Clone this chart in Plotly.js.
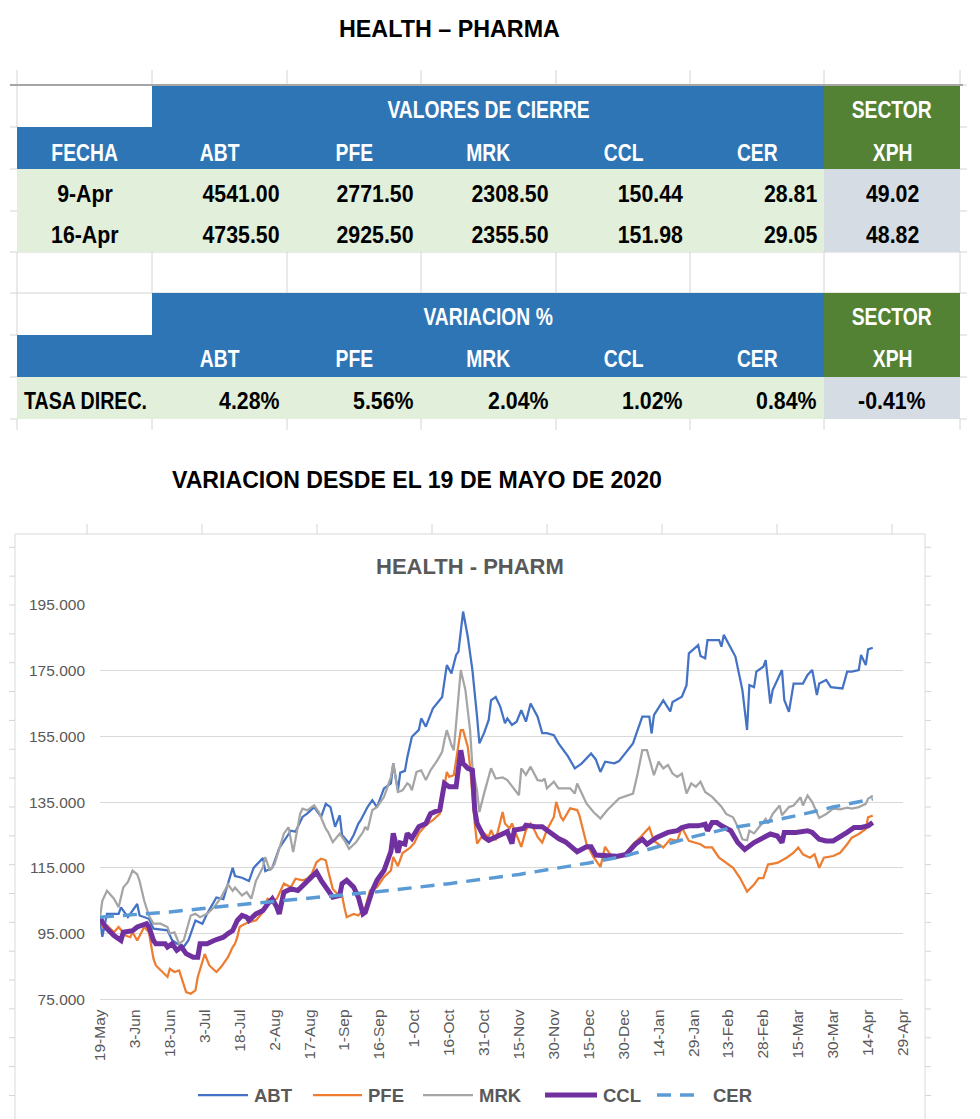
<!DOCTYPE html>
<html>
<head>
<meta charset="utf-8">
<script src="https://cdn.plot.ly/plotly-3.0.1.min.js"></script>
<style>html,body{margin:0;padding:0;background:#fff;}#chart{width:980px;height:1119px;}</style>
</head>
<body>
<div id="chart"></div>
<script>
// ---------------- DATA ----------------
const pageTitle = "HEALTH – PHARMA";
const subTitle = "VARIACION DESDE EL 19 DE MAYO DE 2020";
const chartTitle = "HEALTH - PHARM";

const tickers = ["ABT", "PFE", "MRK", "CCL", "CER"];
const sectorLabel = ["SECTOR", "XPH"];
const closeHeader = "VALORES DE CIERRE";
const varHeader = "VARIACION %";
const fechaHeader = "FECHA";
const fechas = ["9-Apr", "16-Apr"];
const close9Apr = [4541.00, 2771.50, 2308.50, 150.44, 28.81];
const close16Apr = [4735.50, 2925.50, 2355.50, 151.98, 29.05];
const xphClose = [49.02, 48.82];
const tasaLabel = "TASA DIREC.";
const variacion = [4.28, 5.56, 2.04, 1.02, 0.84];
const xphVariacion = -0.41;

const xTickDates = ["2020-05-19","2020-06-03","2020-06-18","2020-07-03","2020-07-18","2020-08-02","2020-08-17","2020-09-01","2020-09-16","2020-10-01","2020-10-16","2020-10-31","2020-11-15","2020-11-30","2020-12-15","2020-12-30","2021-01-14","2021-01-29","2021-02-13","2021-02-28","2021-03-15","2021-03-30","2021-04-14","2021-04-29"];
const xTickLabels = ["19-May","3-Jun","18-Jun","3-Jul","18-Jul","2-Aug","17-Aug","1-Sep","16-Sep","1-Oct","16-Oct","31-Oct","15-Nov","30-Nov","15-Dec","30-Dec","14-Jan","29-Jan","13-Feb","28-Feb","15-Mar","30-Mar","14-Apr","29-Apr"];
const yTickValues = [75, 95, 115, 135, 155, 175, 195];

const abtDates = ["2020-05-19","2020-05-20","2020-05-22","2020-05-27","2020-05-28","2020-05-31","2020-06-04","2020-06-05","2020-06-09","2020-06-11",
"2020-06-17","2020-06-19","2020-06-21","2020-06-24","2020-06-26","2020-06-29","2020-07-02","2020-07-04","2020-07-08","2020-07-11",
"2020-07-15","2020-07-16","2020-07-19","2020-07-22","2020-07-24","2020-07-28","2020-07-29","2020-08-01","2020-08-04","2020-08-07",
"2020-08-09","2020-08-11","2020-08-14","2020-08-16","2020-08-19","2020-08-22","2020-08-24","2020-08-26","2020-08-28","2020-08-30",
"2020-08-31","2020-09-03","2020-09-05","2020-09-07","2020-09-08","2020-09-11","2020-09-13","2020-09-15","2020-09-18","2020-09-21",
"2020-09-22","2020-09-24","2020-09-25","2020-09-27","2020-09-28","2020-09-30","2020-10-03","2020-10-04","2020-10-06","2020-10-09",
"2020-10-13","2020-10-15","2020-10-17","2020-10-19","2020-10-20","2020-10-22","2020-10-24","2020-10-26","2020-10-27","2020-10-28",
"2020-10-29","2020-10-31","2020-11-02","2020-11-03","2020-11-05","2020-11-07","2020-11-09","2020-11-10","2020-11-12","2020-11-14",
"2020-11-16","2020-11-18","2020-11-20","2020-11-23","2020-11-25","2020-11-27","2020-11-30","2020-12-02","2020-12-06","2020-12-09",
"2020-12-12","2020-12-16","2020-12-18","2020-12-20","2020-12-22","2020-12-26","2020-12-28","2021-01-03","2021-01-05","2021-01-07",
"2021-01-10","2021-01-11","2021-01-12","2021-01-16","2021-01-19","2021-01-20","2021-01-24","2021-01-26","2021-01-27","2021-01-31",
"2021-02-01","2021-02-03","2021-02-04","2021-02-09","2021-02-10","2021-02-11","2021-02-16","2021-02-19","2021-02-21","2021-02-22",
"2021-02-24","2021-02-25","2021-02-28","2021-03-01","2021-03-03","2021-03-04","2021-03-08","2021-03-09","2021-03-11","2021-03-13",
"2021-03-17","2021-03-19","2021-03-21","2021-03-23","2021-03-24","2021-03-27","2021-03-29","2021-04-03","2021-04-05","2021-04-07",
"2021-04-10","2021-04-11","2021-04-13","2021-04-14","2021-04-16"];
const abtValues = [100,94,101,101,103,100,104,100.5,99.5,96.5,
96,93,92,91,93,99,98,101,106,105.5,
115,112.5,112,111,115,118,114,115,121,124,
126.3,126,130.5,131.5,133.5,130.5,134.5,133.5,127.5,131,
125,122.5,125,128.5,129.5,133.6,135.6,133.5,139.2,140.7,
146.8,138.6,144,144.5,148.5,154.9,157,160.5,158,163.5,
167,176.7,174.2,179.8,180.8,193,185.4,175.2,169.1,161,
152.9,156,160,166,167,164,159,160.5,158.5,159.5,
163,159.5,165,161,156,156,155.4,152.9,149,145.3,
146.8,149.8,148,144.2,147.3,146.8,147.5,152.9,157,161,
161,155.9,161.5,166,162.6,165.5,167.1,170.6,180.3,182.8,
179.5,178.8,184.3,184.3,182.3,185.9,179.3,169.1,157,170.6,
170,174.7,176.2,178.2,165,169.1,175.2,166.1,162.5,171.1,
171.1,173.7,175.2,167.6,171.1,172.2,170,169.6,174.7,174.7,
175.2,179.8,176.7,181.5,182];

const pfeDates = ["2020-05-19","2020-05-20","2020-05-22","2020-05-25","2020-05-27","2020-05-30","2020-06-01","2020-06-02","2020-06-04","2020-06-06",
"2020-06-07","2020-06-09","2020-06-10","2020-06-11","2020-06-12","2020-06-15","2020-06-17","2020-06-18","2020-06-20","2020-06-22",
"2020-06-24","2020-06-25","2020-06-27","2020-06-29","2020-06-30","2020-07-02","2020-07-03","2020-07-05","2020-07-08","2020-07-10",
"2020-07-13","2020-07-15","2020-07-16","2020-07-17","2020-07-18","2020-07-19","2020-07-22","2020-07-25","2020-07-28","2020-07-30",
"2020-08-01","2020-08-03","2020-08-06","2020-08-09","2020-08-11","2020-08-14","2020-08-16","2020-08-18","2020-08-20","2020-08-22",
"2020-08-24","2020-08-25","2020-08-27","2020-08-29","2020-08-31","2020-09-01","2020-09-02","2020-09-05","2020-09-07","2020-09-10",
"2020-09-12","2020-09-15","2020-09-17","2020-09-18","2020-09-21","2020-09-22","2020-09-24","2020-09-26","2020-09-29","2020-10-01",
"2020-10-03","2020-10-06","2020-10-09","2020-10-12","2020-10-15","2020-10-16","2020-10-18","2020-10-21","2020-10-22","2020-10-24",
"2020-10-25","2020-10-26","2020-10-27","2020-10-28","2020-10-31","2020-11-02","2020-11-03","2020-11-05","2020-11-08","2020-11-09",
"2020-11-11","2020-11-12","2020-11-14","2020-11-16","2020-11-18","2020-11-20","2020-11-22","2020-11-23","2020-11-25","2020-11-27",
"2020-11-30","2020-12-01","2020-12-03","2020-12-04","2020-12-07","2020-12-10","2020-12-11","2020-12-14","2020-12-17","2020-12-20",
"2020-12-22","2020-12-25","2020-12-30","2021-01-03","2021-01-06","2021-01-10","2021-01-12","2021-01-16","2021-01-19","2021-01-22",
"2021-01-24","2021-01-27","2021-02-01","2021-02-03","2021-02-06","2021-02-09","2021-02-15","2021-02-18","2021-02-21","2021-02-24",
"2021-02-26","2021-02-28","2021-03-02","2021-03-06","2021-03-10","2021-03-13","2021-03-15","2021-03-17","2021-03-20","2021-03-22",
"2021-03-24","2021-03-26","2021-03-30","2021-04-02","2021-04-05","2021-04-07","2021-04-10","2021-04-13","2021-04-14","2021-04-16"];
const pfeValues = [100,97,97.5,95.4,97,94.4,93.9,95.4,92.9,95.4,
97,95.4,90.9,87.3,85.3,83.3,81.8,84.3,83.3,83.8,
79.7,77.2,76.7,77.7,81.8,86.3,88.8,85.3,83.3,84.8,
87.8,90.9,91.9,93.9,97,97.5,98.5,99,101.5,105.6,
105,105.6,110.2,109.1,111.7,111.2,111.7,113.2,116.7,117.8,
117.3,114.2,108.6,107.1,106.6,103,100,101,100.5,103,
108.1,109.1,111.2,112.2,114.2,118.3,115.5,119.5,121,122.5,
125.5,128,129.5,131.5,144.2,142.7,143.2,156.9,156.9,151.9,
145.8,136.6,128.5,122.4,125.5,124.5,126.5,123.4,132,128.5,
127,128.5,125,121.4,126.5,128.5,126,124.4,122.7,126.5,
130.5,135.1,130.5,129.5,133.1,132.6,130.9,122.4,118.3,115.3,
121.4,118.3,118.6,122.2,124.2,127.3,123.2,121.2,123.7,123.2,
127.3,123.2,122.2,121.2,121.2,118.1,115,111.9,107.8,109.9,
111.9,111.9,116,116.5,118.1,119.6,121.2,119.1,118.1,119.1,
115,118.1,118.6,119.6,122.2,124.2,125.3,126.8,130.4,130.9];

const mrkDates = ["2020-05-19","2020-05-20","2020-05-22","2020-05-25","2020-05-27","2020-05-29","2020-05-31","2020-06-02","2020-06-04","2020-06-05",
"2020-06-07","2020-06-09","2020-06-11","2020-06-14","2020-06-17","2020-06-18","2020-06-20","2020-06-22","2020-06-24","2020-06-27",
"2020-06-29","2020-07-01","2020-07-04","2020-07-07","2020-07-10","2020-07-13","2020-07-15","2020-07-16","2020-07-19","2020-07-21",
"2020-07-23","2020-07-25","2020-07-28","2020-07-29","2020-07-31","2020-08-02","2020-08-06","2020-08-08","2020-08-10","2020-08-12",
"2020-08-13","2020-08-14","2020-08-16","2020-08-19","2020-08-21","2020-08-24","2020-08-25","2020-08-27","2020-08-30","2020-09-01",
"2020-09-03","2020-09-06","2020-09-09","2020-09-10","2020-09-11","2020-09-13","2020-09-15","2020-09-18","2020-09-21","2020-09-22",
"2020-09-24","2020-09-26","2020-09-28","2020-09-29","2020-09-30","2020-10-02","2020-10-04","2020-10-06","2020-10-08","2020-10-11",
"2020-10-13","2020-10-14","2020-10-15","2020-10-17","2020-10-18","2020-10-21","2020-10-23","2020-10-25","2020-10-26","2020-10-28",
"2020-10-29","2020-10-31","2020-11-02","2020-11-03","2020-11-05","2020-11-08","2020-11-10","2020-11-13","2020-11-15","2020-11-16",
"2020-11-18","2020-11-20","2020-11-23","2020-11-25","2020-11-26","2020-11-27","2020-11-30","2020-12-02","2020-12-07","2020-12-09",
"2020-12-10","2020-12-14","2020-12-17","2020-12-20","2020-12-23","2020-12-28","2021-01-03","2021-01-05","2021-01-07","2021-01-09",
"2021-01-11","2021-01-12","2021-01-14","2021-01-16","2021-01-18","2021-01-20","2021-01-22","2021-01-24","2021-01-26","2021-01-27",
"2021-01-28","2021-01-30","2021-02-01","2021-02-03","2021-02-06","2021-02-10","2021-02-12","2021-02-15","2021-02-17","2021-02-19",
"2021-02-21","2021-02-22","2021-02-24","2021-02-26","2021-03-01","2021-03-02","2021-03-04","2021-03-07","2021-03-08","2021-03-11",
"2021-03-13","2021-03-16","2021-03-17","2021-03-19","2021-03-21","2021-03-24","2021-03-27","2021-03-30","2021-04-02","2021-04-05",
"2021-04-07","2021-04-10","2021-04-13","2021-04-14","2021-04-16"];
const mrkValues = [100,105,108,105.6,103,109,110.7,114.2,113,111,
105,100.5,98,98,97,95,95.4,91.9,93,100.5,
101,100,101,103,106,110,108,109,106.6,107.6,
105.6,111,115.2,118.3,114.2,116.2,125.4,127.4,119.8,127.9,
131.5,133,132.5,134,132,126.9,125.9,122.8,125.4,123.4,
120.8,122.8,125.9,127.5,126.5,132.6,133.5,136.6,142.7,146.8,
138.1,138.6,140.7,140.2,138.6,144.2,144.7,141.7,144.7,147.8,
150.3,153.9,156.9,152.4,150.8,175.2,169.1,156.9,145.8,138.6,
132,137.6,142.7,145.3,142.2,142.5,141.7,139,137.1,145.3,
143.3,145.8,141.7,141.5,142.2,139.2,141.2,139.2,139.2,137.6,
140.7,134.6,132,130,132.6,136.1,137.6,143.7,150.8,150.8,
145.8,143.2,147.3,145.3,146.3,143.7,142.7,143.7,137.6,139.2,
140.7,139.7,141.2,138.1,136.6,133.6,131.4,130.4,127.5,123.7,
123.4,126.3,125.5,127.3,129.9,128.5,131.4,134,131,133.5,
134,136.5,134,137,135,130.2,131.4,133,132.8,133.3,
133,133.5,134.5,136,137];

const cclDates = ["2020-05-19","2020-05-20","2020-05-22","2020-05-25","2020-05-28","2020-05-29","2020-06-02","2020-06-04","2020-06-08","2020-06-09",
"2020-06-11","2020-06-12","2020-06-16","2020-06-17","2020-06-19","2020-06-21","2020-06-23","2020-06-25","2020-06-28","2020-06-30",
"2020-07-01","2020-07-04","2020-07-07","2020-07-11","2020-07-13","2020-07-15","2020-07-17","2020-07-19","2020-07-21","2020-07-22",
"2020-07-25","2020-07-28","2020-07-30","2020-08-01","2020-08-03","2020-08-04","2020-08-06","2020-08-09","2020-08-12","2020-08-14",
"2020-08-16","2020-08-20","2020-08-22","2020-08-25","2020-08-27","2020-08-30","2020-08-31","2020-09-02","2020-09-05","2020-09-07",
"2020-09-09","2020-09-10","2020-09-11","2020-09-13","2020-09-15","2020-09-18","2020-09-21","2020-09-22","2020-09-24","2020-09-25",
"2020-09-27","2020-09-28","2020-09-30","2020-10-03","2020-10-06","2020-10-08","2020-10-10","2020-10-12","2020-10-14","2020-10-16",
"2020-10-19","2020-10-21","2020-10-22","2020-10-24","2020-10-26","2020-10-27","2020-10-28","2020-10-31","2020-11-02","2020-11-05",
"2020-11-08","2020-11-10","2020-11-12","2020-11-13","2020-11-17","2020-11-18","2020-11-22","2020-11-25","2020-11-28","2020-12-02",
"2020-12-05","2020-12-08","2020-12-10","2020-12-14","2020-12-16","2020-12-18","2020-12-23","2020-12-27","2020-12-31","2021-01-04",
"2021-01-07","2021-01-09","2021-01-13","2021-01-18","2021-01-22","2021-01-24","2021-01-27","2021-01-31","2021-02-03","2021-02-04",
"2021-02-06","2021-02-08","2021-02-10","2021-02-14","2021-02-17","2021-02-20","2021-02-24","2021-02-28","2021-03-03","2021-03-06",
"2021-03-08","2021-03-09","2021-03-14","2021-03-19","2021-03-21","2021-03-24","2021-03-27","2021-03-30","2021-04-02","2021-04-05",
"2021-04-08","2021-04-11","2021-04-14","2021-04-16"];
const cclValues = [100,98.5,96.5,94.4,92.9,95.4,95.9,97,98,97,
92.9,91.9,91.9,90.9,91.9,89.9,90.9,88.9,87.8,87.8,
91.9,91.9,92.9,93.9,95,95.9,99,100.5,100,99,
101,102,104,105.6,103,101,107.6,108.6,108.1,109.6,
110.7,113.7,111.2,108.1,106.1,106.6,110.2,111.2,109.1,106.1,
101,101.5,104,108.1,111.2,114.2,120,125.5,119.6,122.6,
122.2,125.5,124,127.5,128.5,131.5,132.1,132.6,140.7,139.7,
139.7,150.8,146.8,145.3,144.7,132.6,128.5,124.4,123.4,124.4,
125.5,126,122.4,126.5,127,128,127.5,127.5,126,123.9,
122.9,120.9,119.9,121.4,121.4,118.9,118.6,118.5,119.1,122.2,
123.7,122.2,124.2,125.8,126.3,127.3,127.8,127.8,128.3,126.3,
128.8,128.8,127.8,126.3,122.7,120.6,122.7,124.2,125.3,124.7,
122.7,125.8,125.8,126.3,125.8,123.7,123.2,123.2,124.4,125.8,
127.3,127.3,127.8,128.8];

const cerDates = ["2020-05-19","2020-06-18","2020-07-18","2020-08-17","2020-09-16","2020-10-16","2020-11-15","2020-12-15","2020-12-30","2021-01-14","2021-01-29","2021-02-13","2021-02-28","2021-03-15","2021-03-30","2021-04-16"];
const cerValues = [100,101.6,103.8,105.8,107.8,110.2,113,116.5,118.5,121.5,124.5,127,128.8,131,133.5,136];

// ---------------- STYLE / LAYOUT ----------------
const W = 980, H = 1119;
const X = v => v / W;
const Y = v => 1 - v / H;
const SANS = '"Liberation Sans", Arial, sans-serif';
const BLUE = '#2E75B6', GREEN = '#548235', LGREEN = '#E2EFDA', LGRAY = '#D6DCE4', GRID = '#D4D4D4';
const seriesColors = ['#4472C4', '#ED7D31', '#A5A5A5', '#7030A0', '#5B9BD5'];
const seriesWidths = [2.25, 2.25, 2.25, 5, 3.5];
const seriesDash = ['solid', 'solid', 'solid', 'solid', '14px,9px'];

const colX = [17, 152, 287, 421, 556, 690, 824, 960];
const rowY = [85, 127, 169, 211, 252, 293, 335, 377, 419];

const shapes = [];
function line(x0, y0, x1, y1, color, w, dash) {
  shapes.push({type: 'line', xref: 'paper', yref: 'paper', x0: X(x0), y0: Y(y0), x1: X(x1), y1: Y(y1),
    line: {color: color, width: w, dash: dash || 'solid'}, layer: 'below'});
}
function rect(x0, y0, x1, y1, fill, lc, lw) {
  shapes.push({type: 'rect', xref: 'paper', yref: 'paper', x0: X(x0), y0: Y(y0), x1: X(x1), y1: Y(y1),
    fillcolor: fill, line: {color: lc || 'rgba(0,0,0,0)', width: lw || 0}, layer: 'below'});
}
// spreadsheet gridlines around the table
rowY.forEach(y => { line(10, y, 17, y, GRID, 1); line(960, y, 967, y, GRID, 1); });
colX.forEach(x => { line(x, 70, x, 85, GRID, 1); line(x, 252, x, 293, GRID, 1); line(x, 419, x, 430, GRID, 1); });
line(17, 85, 17, 127, GRID, 1); line(17, 293, 17, 335, GRID, 1);
line(17, 252, 960, 252, GRID, 1); line(17, 293, 960, 293, GRID, 1);
// table cells
rect(152, 85, 824, 127, BLUE); rect(824, 85, 960, 127, GREEN);
rect(17, 127, 824, 169, BLUE); rect(824, 127, 960, 169, GREEN);
rect(17, 169, 824, 252, LGREEN); rect(824, 169, 960, 252, LGRAY);
rect(152, 293, 824, 335, BLUE); rect(824, 293, 960, 335, GREEN);
rect(17, 335, 824, 377, BLUE); rect(824, 335, 960, 377, GREEN);
rect(17, 377, 824, 419, LGREEN); rect(824, 377, 960, 419, LGRAY);
line(10, 85, 963, 85, '#A6A6A6', 2);
// chart frame + spreadsheet grid peeking around it
for (let k = 0; k < 8; k++) line(87 + 115 * k, 524, 87 + 115 * k, 534, GRID, 1);
for (let k = 0; k < 20; k++) { const yy = 547.3 + 28.85 * k; line(9, yy, 15, yy, GRID, 1); line(925, yy, 931, yy, GRID, 1); }
rect(15, 534, 925, 1130, '#FFFFFF', '#D9D9D9', 1);

const annotations = [];
const squeeze = [];   // horizontal condensing of each annotation (Calibri-like look)
function txt(t, x, y, anchor, size, color, sq) {
  annotations.push({text: '<b>' + t + '</b>', x: X(x), y: Y(y), xref: 'paper', yref: 'paper', showarrow: false,
    xanchor: anchor, yanchor: 'middle', font: {family: SANS, size: size, color: color}});
  squeeze.push({s: sq || 1, o: anchor});
}
const centers = colX.slice(0, -1).map((x, i) => (x + colX[i + 1]) / 2);
const rights = colX.slice(1).map(x => x - 5);
const HS = 23, DS = 24.5, HQ = 0.84, DQ = 0.87;
txt(pageTitle, 449, 29, 'center', 23.3, '#000');
txt(subTitle, 417, 480, 'center', 23.1, '#000');
// block 1
txt(closeHeader, 488, 110, 'center', HS, '#fff', HQ);
txt(sectorLabel[0], centers[6], 110, 'center', HS, '#fff', HQ);
txt(fechaHeader, centers[0], 152.7, 'center', HS, '#fff', HQ);
tickers.forEach((t, i) => txt(t, centers[i + 1], 152.7, 'center', HS, '#fff', HQ));
txt(sectorLabel[1], centers[6], 152.7, 'center', HS, '#fff', HQ);
txt(fechas[0], centers[0], 193.3, 'center', DS, '#000', DQ);
txt(fechas[1], centers[0], 234, 'center', DS, '#000', DQ);
close9Apr.forEach((v, i) => txt(v.toFixed(2), rights[i + 1], 193.3, 'right', DS, '#000', DQ));
close16Apr.forEach((v, i) => txt(v.toFixed(2), rights[i + 1], 234, 'right', DS, '#000', DQ));
txt(xphClose[0].toFixed(2), centers[6], 193.3, 'center', DS, '#000', DQ);
txt(xphClose[1].toFixed(2), centers[6], 234, 'center', DS, '#000', DQ);
// block 2
txt(varHeader, 488, 317.3, 'center', HS, '#fff', HQ);
txt(sectorLabel[0], centers[6], 317.3, 'center', HS, '#fff', HQ);
tickers.forEach((t, i) => txt(t, centers[i + 1], 359.3, 'center', HS, '#fff', HQ));
txt(sectorLabel[1], centers[6], 359.3, 'center', HS, '#fff', HQ);
txt(tasaLabel, 22, 400.7, 'left', DS, '#000', 0.8);
variacion.forEach((v, i) => txt(v.toFixed(2) + '%', rights[i + 1], 400.7, 'right', DS, '#000', DQ));
txt(xphVariacion.toFixed(2) + '%', centers[6], 400.7, 'center', DS, '#000', DQ);
// chart title
txt(chartTitle, 470, 566, 'center', 22, '#595959');

// legend (drawn as line samples + labels)
const legendX = [198, 313, 423, 545, 657];
const legendLen = [50, 49, 50, 52, 45];
const legendY = 1095;
tickers.forEach((t, i) => {
  line(legendX[i], legendY, legendX[i] + legendLen[i], legendY, seriesColors[i], seriesWidths[i], seriesDash[i]);
  txt(t, legendX[i] + legendLen[i] + (i === 4 ? 9 : 4), legendY, 'left', 18.5, '#595959');
});

const seriesX = [abtDates, pfeDates, mrkDates, cclDates, cerDates];
const seriesY = [abtValues, pfeValues, mrkValues, cclValues, cerValues];
const traces = tickers.map((t, i) => ({
  name: t, x: seriesX[i], y: seriesY[i], type: 'scatter', mode: 'lines',
  line: {color: seriesColors[i], width: seriesWidths[i], dash: seriesDash[i]}
}));

const layout = {
  width: W, height: H,
  margin: {l: 0, r: 0, t: 0, b: 0},
  paper_bgcolor: '#FFFFFF', plot_bgcolor: 'rgba(0,0,0,0)',
  showlegend: false,
  xaxis: {type: 'date', domain: [X(100), X(903)], range: ['2020-05-19', '2021-04-29'],
    tickmode: 'array', tickvals: xTickDates, ticktext: xTickLabels, tickangle: -90,
    tickfont: {family: SANS, size: 15.5, color: '#595959'}, showgrid: false, zeroline: false,
    showline: true, linecolor: '#D9D9D9', linewidth: 1, ticks: '', ticklabelstandoff: 3, fixedrange: true},
  yaxis: {domain: [Y(999.3), Y(605)], range: [75, 195],
    tickmode: 'array', tickvals: yTickValues, ticktext: yTickValues.map(v => v.toFixed(3)),
    tickfont: {family: SANS, size: 15.5, color: '#595959'}, showgrid: true, gridcolor: '#D9D9D9', gridwidth: 1,
    zeroline: false, showline: false, ticks: '', ticklabelstandoff: 14, fixedrange: true},
  shapes: shapes,
  annotations: annotations
};

Plotly.newPlot('chart', traces, layout, {displayModeBar: false, staticPlot: true}).then(() => {
  document.querySelectorAll('#chart g.annotation').forEach(g => {
    const q = squeeze[+g.getAttribute('data-index')];
    if (!q || q.s === 1) return;
    const t = g.querySelector('text');
    if (!t) return;
    t.style.transformBox = 'fill-box';
    t.style.transformOrigin = q.o + ' center';
    t.style.transform = 'scaleX(' + q.s + ')';
  });
});
</script>
</body>
</html>
